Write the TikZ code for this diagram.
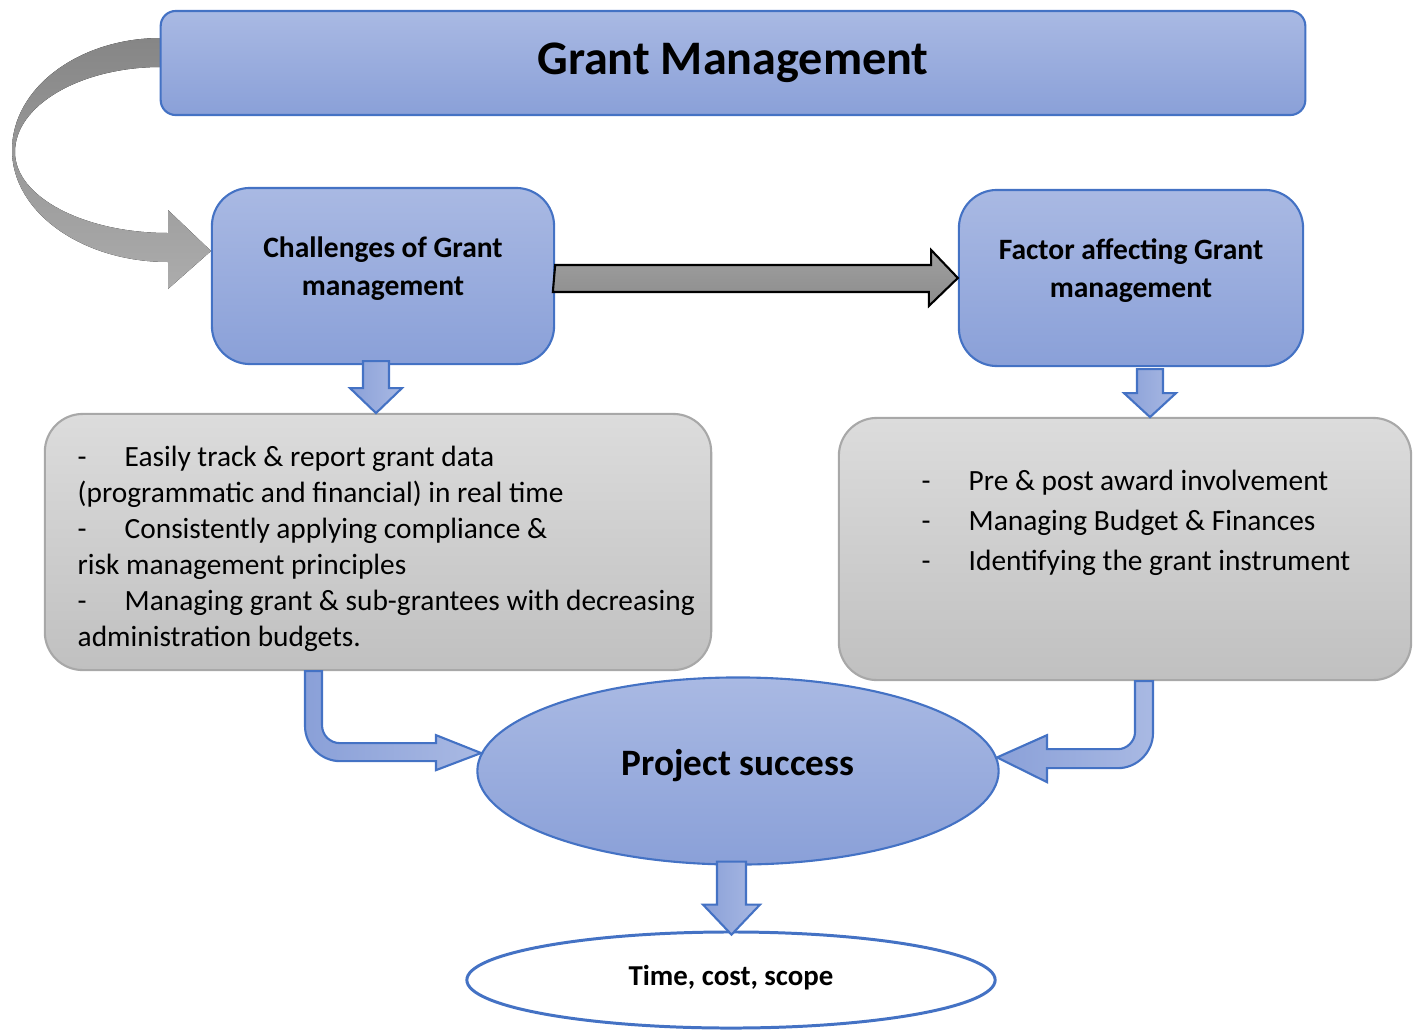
\documentclass[tikz,border=0pt]{standalone}
\usepackage{fontspec}
\setmainfont{Carlito}
\usetikzlibrary{shapes.geometric,calc}

\definecolor{bluetop}{HTML}{A9B9E3}
\definecolor{bluebot}{HTML}{8AA0D8}
\definecolor{blueline}{HTML}{4472C4}
\definecolor{greytop}{HTML}{DCDCDC}
\definecolor{greybot}{HTML}{C0C0C0}
\definecolor{greyline}{HTML}{A8A8A8}

\newcommand{\itemdash}{\makebox[0.47cm][l]{-}}

\tikzset{
  bluebox/.style={draw=blueline, line width=0.6pt, top color=bluetop, bottom color=bluebot,
    rounded corners=0.38cm, align=center, font=\bfseries, inner sep=0pt},
  greybox/.style={draw=greyline, line width=0.6pt, top color=greytop, bottom color=greybot,
    rounded corners=0.38cm, inner sep=0pt},
  listtext/.style={anchor=north west, align=left, inner sep=0pt},
  bluearrow/.style={draw=blueline, line width=0.6pt, left color=bluebot, right color=bluetop},
  greyarrow/.style={draw=black, line width=0.6pt, top color=gray!75, bottom color=gray!90}
}

\begin{document}
\begin{tikzpicture}[x=0.01cm, y=-0.01cm]
    \useasboundingbox (0,0) rectangle (1421,1030);

    % loop-back arrow on the left
    \fill[top color=gray!95, bottom color=gray!65]
      (161,38) .. controls (79,38) and (12,88) .. (12,150)
      .. controls (12,212) and (82,262) .. (168,262)
      -- (168,289) -- (211,251) -- (168,210) -- (168,233)
      .. controls (84,233) and (15,197) .. (15,152)
      .. controls (15,105) and (81,67) .. (161,67) -- cycle;

    \node[bluebox, rounded corners=0.15cm, minimum width=11.44cm, minimum height=1.04cm,
      font=\bfseries\fontsize{13.7}{16}\selectfont] (title) at (733,63) {Grant Management};

    \node[bluebox, minimum width=3.42cm, minimum height=1.76cm, text depth=0.2cm,
      font=\bfseries\fontsize{8.4}{11}\selectfont] (chal) at (383,276) {Challenges of Grant\\management};
    \node[bluebox, minimum width=3.44cm, minimum height=1.76cm, text depth=0.2cm,
      font=\bfseries\fontsize{8.4}{11}\selectfont] (fact) at (1131,278) {Factor affecting Grant\\management};

    \node[greybox, minimum width=6.66cm, minimum height=2.56cm] (chalbox) at (378,542) {};
    \node[greybox, minimum width=5.72cm, minimum height=2.62cm] (factbox) at (1125,549) {};

    \node[listtext, font=\fontsize{8.35}{10.25}\selectfont] (challist) at (77,445) {%
      \itemdash Easily track \& report grant data\\
      (programmatic and financial) in real time\\
      \itemdash Consistently applying compliance \&\\
      risk management principles\\
      \itemdash Managing grant \& sub-grantees with decreasing\\
      administration budgets.};
    \node[listtext, font=\fontsize{8.35}{11.4}\selectfont] (factlist) at (921,469) {%
      \itemdash Pre \& post award involvement\\
      \itemdash Managing Budget \& Finances\\
      \itemdash Identifying the grant instrument};

    \node[ellipse, draw=blueline, line width=0.6pt, top color=bluetop, bottom color=bluebot,
      minimum width=5.21cm, minimum height=1.87cm, inner sep=0pt, text depth=0.18cm,
      font=\bfseries\fontsize{10.6}{13}\selectfont] (succ) at (738,771) {Project success};

    \node[ellipse, draw=blueline, line width=0.85pt, fill=white,
      minimum width=5.28cm, minimum height=0.96cm, inner sep=0pt, text depth=0.09cm,
      font=\bfseries\fontsize{8.2}{10}\selectfont] (tcs) at (731,980) {Time, cost, scope};

    % straight block arrows
    \draw[greyarrow] (chal.east) ++(0,-11) -- ++(376,0) -- ++(0,-15) -- (fact.west)
      -- ++(-29,28) -- ++(0,-14) -- ++(-376,0) -- cycle;
    \draw[bluearrow] (chal.south) ++(-20,-4) -- ++(26,0) -- ++(0,27) -- ++(13,0)
      -- ++(-26,25) -- ++(-26,-25) -- ++(13,0) -- cycle;
    \draw[bluearrow] (fact.south) ++(6,2) -- ++(26,0) -- ++(0,24) -- ++(13,0)
      -- ++(-26,24) -- ++(-26,-24) -- ++(13,0) -- cycle;
    \draw[bluearrow] (succ.south) ++(-21,-4) -- ++(29,0) -- ++(0,43) -- ++(14,0)
      -- ++(-28.5,30) -- ++(-28.5,-30) -- ++(14,0) -- cycle;

    % bent block arrows into the ellipse
    \coordinate (la) at ($(chalbox.south)+(-73,0)$);
    \draw[bluearrow] (la) -- ++(17,0) -- ++(0,54)
      .. controls +(0,10) and +(-10,0) .. ++(18,18) -- ++(96,0) -- ++(0,-8)
      -- (succ.176) -- ($(la)+(131,99)$) -- ($(la)+(131,90)$) -- ($(la)+(35,90)$)
      .. controls +(-19,0) and +(0,19) .. ($(la)+(0,55)$) -- cycle;
    \coordinate (ra) at ($(factbox.south)+(28,0)$);
    \draw[bluearrow] (ra) -- ++(0,52)
      .. controls +(0,19) and +(19,0) .. ++(-35,35) -- ++(-71,0) -- ++(0,14)
      -- (succ.3) -- ($(ra)+(-106,54)$) -- ($(ra)+(-106,68)$) -- ($(ra)+(-35,68)$)
      .. controls +(9,0) and +(0,9) .. ($(ra)+(-18,51)$) -- ($(ra)+(-18,0)$) -- cycle;
\end{tikzpicture}
\end{document}
